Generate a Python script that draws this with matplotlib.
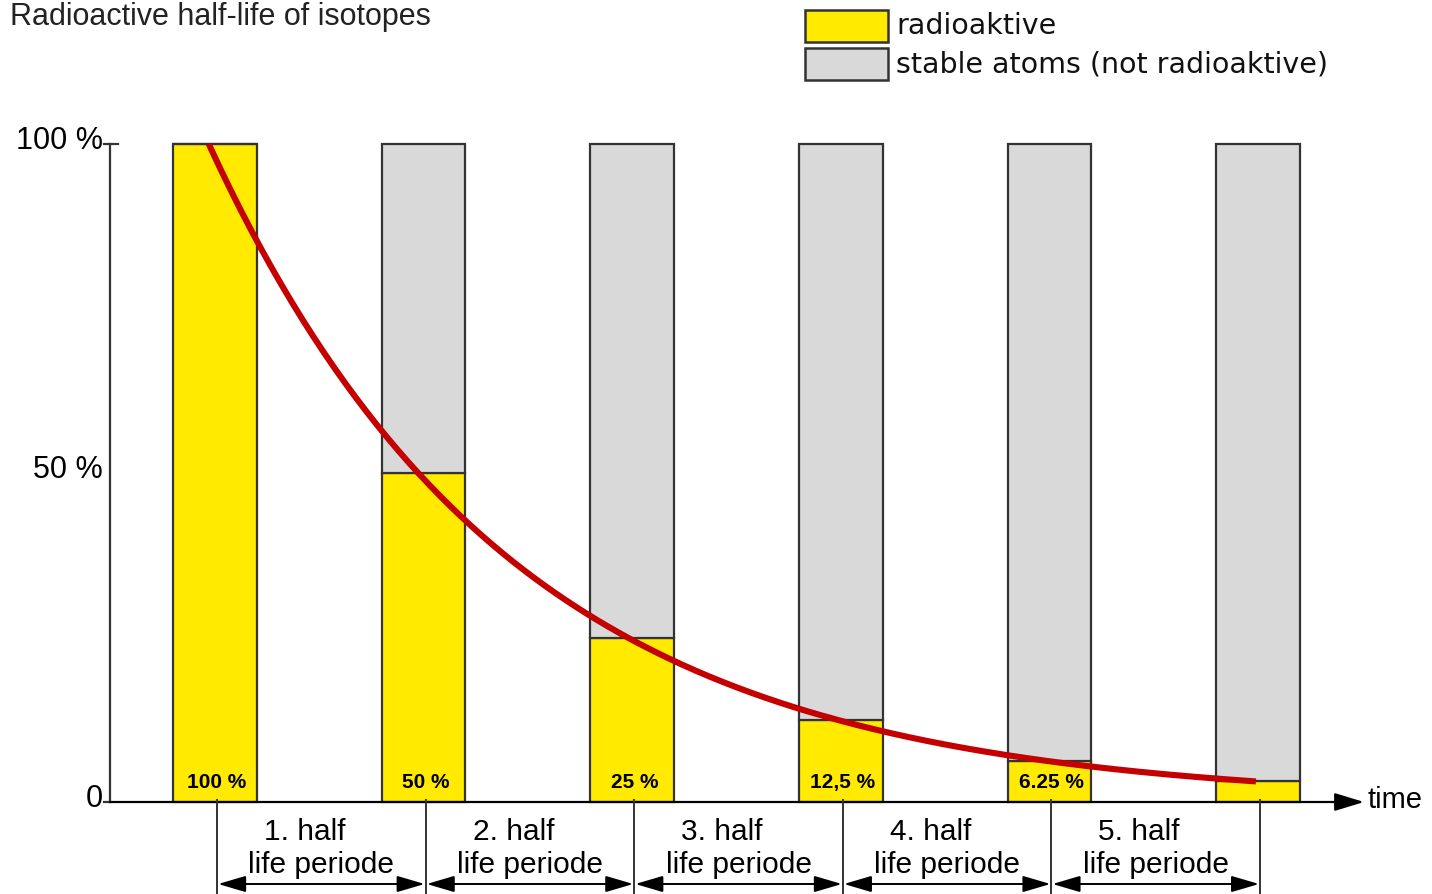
import numpy as np
import matplotlib
matplotlib.use("Agg")
import matplotlib.pyplot as plt
from matplotlib.patches import Rectangle

plt.rcParams['font.family'] = ['Liberation Sans', 'DejaVu Sans']

title = "Radioactive half-life of isotopes"
radioactive = [100, 50, 25, 12.5, 6.25, 3.125]
total = [100, 100, 100, 100, 100, 100]
bar_labels = ["100 %", "50 %", "25 %", "12,5 %", "6.25 %", ""]
period_labels = ["1. half", "2. half", "3. half", "4. half", "5. half"]
period_sub = "life periode"
ytick_vals = [0, 50, 100]
ytick_labels = ["0", "50 %", "100 %"]
legend_labels = ["radioaktive", "stable atoms (not radioaktive)"]

YELLOW = "#ffea00"
GREY = "#d9d9d9"
EDGE = "#333333"
RED = "#c40000"

W, H = 1432, 894
fig = plt.figure(figsize=(W / 100, H / 100), dpi=100)
ax = fig.add_axes([0, 0, 1, 1])

# pixel mapping: bar i center at x=215 + i*208.6, y=0 at 802 px, 100 at 144 px
px_x = 208.6
px_y = 6.58
ax.set_xlim(-215 / px_x, (W - 215) / px_x)
ax.set_ylim(-(H - 802) / px_y, 802 / px_y)
ax.axis("off")

x = np.arange(len(radioactive))
stable = np.array(total) - np.array(radioactive)
ax.bar(x, radioactive, width=0.4, color=YELLOW, edgecolor=EDGE, linewidth=1.6, zorder=2)
ax.bar(x, stable, bottom=radioactive, width=0.4, color=GREY, edgecolor=EDGE, linewidth=1.6, zorder=2)

# decay curve
t = np.linspace(0, 5, 300)
ax.plot(t * 1.004 - 0.03, 100 * 0.5 ** t, color=RED, lw=4.4, zorder=4, solid_capstyle="butt")

# percentage labels in bars
for xi, lab in zip(x, bar_labels):
    ax.text(xi + 0.01, 3.0, lab, ha="center", va="center", fontsize=15,
            fontweight="bold", fontstretch="condensed", zorder=5)

# axes
y_axis_x = (110 - 215) / px_x
ax.plot([y_axis_x, y_axis_x], [0, 100], color=EDGE, lw=1.6, zorder=3)
ax.plot([y_axis_x - 0.03, y_axis_x + 0.04], [100, 100], color=EDGE, lw=1.6, zorder=3)
ax.plot([y_axis_x - 0.03, y_axis_x], [0, 0], color=EDGE, lw=1.6, zorder=3)
ax.annotate("", xy=((1364 - 215) / px_x, 0), xytext=(y_axis_x, 0),
            arrowprops=dict(arrowstyle="-|>,head_length=1.8,head_width=0.55",
                            color="black", lw=1.6, shrinkA=0, shrinkB=0), zorder=3)
ax.text((1368 - 215) / px_x, 0.3, "time", ha="left", va="center", fontsize=21)

for v, lab in zip(ytick_vals, ytick_labels):
    ax.text((103 - 215) / px_x, v + 0.5, lab, ha="right", va="center", fontsize=22)

# half-life periods below axis
y_arrow = -(884 - 802) / px_y
for xi in x:
    ax.plot([xi + 0.01, xi + 0.01], [0.3, -20], color=EDGE, lw=1.4, zorder=3)
for i, lab in enumerate(period_labels):
    ax.annotate("", xy=(i + 1.005, y_arrow), xytext=(i + 0.015, y_arrow),
                arrowprops=dict(arrowstyle="<|-|>,head_length=1.7,head_width=0.5",
                                color="black", lw=1.4, shrinkA=0, shrinkB=0))
    ax.text(i + 0.43, -(832 - 802) / px_y, lab, ha="center", va="center", fontsize=21.5)
    ax.text(i + 0.51, -(865 - 802) / px_y, period_sub, ha="center", va="center", fontsize=21.5)

# title
fig.text(10 / W, 1 - 2 / H, title, ha="left", va="top", fontsize=22, color="#222222")

# legend
for k, (lab, col) in enumerate(zip(legend_labels, [YELLOW, GREY])):
    top = 10 + k * 38
    fig.patches.append(Rectangle((805 / W, 1 - (top + 32) / H), 83 / W, 32 / H,
                                 transform=fig.transFigure, facecolor=col,
                                 edgecolor=EDGE, linewidth=1.8))
    fig.text(896 / W, 1 - (top + 16) / H, lab, ha="left", va="center",
             fontsize=20.5, family="DejaVu Sans", color="#111111")

fig.savefig("out.png", dpi=100)
